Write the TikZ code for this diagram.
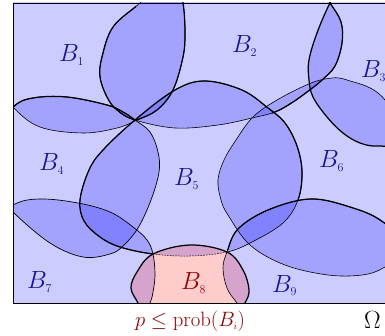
\documentclass[tikz,border=0pt]{standalone}
\definecolor{labblue}{rgb}{0.08,0.08,0.58}
\definecolor{labred}{rgb}{0.55,0.02,0.02}
\begin{document}
\begin{tikzpicture}[x=1pt,y=-1pt,
  blobfill/.style={fill=blue,fill opacity=0.2},
  redfill/.style={fill=red,fill opacity=0.2},
  thickline/.style={draw=black,line width=1.25pt},
  thinline/.style={draw=black,line width=0.6pt},
  medline/.style={draw=black,line width=0.7pt},
  dashline/.style={draw=black,line width=0.5pt,dash pattern=on 1.6pt off 1.2pt},
  lab/.style={text=labblue,font=\fontsize{24}{28}\selectfont,inner sep=0pt,anchor=base west},
]
\useasboundingbox (0,0) rectangle (385,336);
\def\PBone{plot[smooth cycle,tension=0.6] coordinates {(183,3) (185,33) (183,57) (173,90) (157,110) (137,120) (117,128) (83,133) (40,127) (13,107) (-12,75) (-22,20) (20,-30) (130,-40) (176,-20)}}
\def\PBtwo{plot[smooth cycle,tension=0.6] coordinates {(140,3) (113,27) (102,57) (100,77) (107,97) (117,110) (135,120) (175,128) (218,125) (252,118) (275,112) (293,102) (311,89) (322,80) (335,66) (342,43) (341,22) (330,3) (314,-20) (240,-35) (165,-20)}}
\def\PBthree{plot[smooth cycle,tension=0.6] coordinates {(330,3) (317,33) (309,60) (309,80) (313,97) (327,117) (343,133) (360,143) (378,146) (400,140) (420,90) (415,10) (380,-25) (345,-22)}}
\def\PBfour{plot[smooth cycle,tension=0.6] coordinates {(13,107) (33,98) (67,97) (107,105) (123,112) (135,120) (150,132) (158,152) (159,172) (151,200) (138,228) (123,246) (110,254) (83,257) (50,243) (13,212) (-10,185) (-18,140)}}
\def\PBfive{plot[smooth cycle,tension=0.6] coordinates {(135,120) (175,90) (205,81) (242,90) (268,108) (285,123) (297,146) (302,172) (298,200) (283,223) (252,242) (227,252) (190,256) (153,254) (120,247) (100,237) (84,221) (80,200) (89,170) (103,150)}}
\def\PBsix{plot[smooth cycle,tension=0.6] coordinates {(385,100) (347,80) (325,79) (302,87) (272,103) (252,118) (236,140) (224,160) (218,180) (221,200) (228,215) (250,245) (285,265) (328,275) (362,275) (383,268) (405,250) (420,170)}}
\def\PBseven{plot[smooth cycle,tension=0.6] coordinates {(13,205) (40,199) (78,203) (110,212) (133,227) (147,240) (153,254) (155,275) (153,292) (150,303) (140,325) (60,335) (-20,310) (-20,230)}}
\def\PBeight{plot[smooth cycle,tension=0.6] coordinates {(138,303) (131,288) (137,272) (153,254) (190,245) (227,252) (243,270) (249,290) (245,303) (235,318) (190,326) (145,318)}}
\def\PBnine{plot[smooth cycle,tension=0.6] coordinates {(227,252) (223,268) (227,288) (237,303) (255,325) (330,340) (410,320) (415,255) (383,222) (350,207) (310,199) (268,210) (238,229)}}
\begin{scope}
  \clip (13,3) rectangle (420,303);
  \fill[blobfill] \PBone;
  \fill[blobfill] \PBtwo;
  \fill[blobfill] \PBthree;
  \fill[blobfill] \PBfour;
  \fill[blobfill] \PBfive;
  \fill[blobfill] \PBsix;
  \fill[blobfill] \PBseven;
  \fill[blobfill] \PBnine;
  \fill[redfill] \PBeight;
  % thin outlines
  \path[thinline] \PBone;
  \path[thinline] \PBtwo;
  \path[medline] \PBfour;
  \path[thinline] \PBsix;
  \path[medline] \PBseven;
  \path[thinline] \PBnine;
  \begin{scope}
    \clip (-50,-50) rectangle (420,245) (227,-50) rectangle (420,400) (-50,-50) rectangle (153,400);
    \path[thinline] \PBfive;
  \end{scope}
  \begin{scope}
    \clip (153,245) rectangle (227,275);
    \path[dashline] \PBfive;
  \end{scope}
  % thick parts
  \begin{scope}
    \clip (136,-50) rectangle (420,121);
    \path[thickline] \PBone;
  \end{scope}
  \begin{scope}
    \clip (-50,-50) rectangle (136,400) (272,-50) rectangle (420,400);
    \path[thickline] \PBtwo;
  \end{scope}
  \path[thickline] \PBthree;
  \begin{scope}
    \clip (-50,-50) rectangle (135,150);
    \path[thickline] \PBfour;
  \end{scope}
  \begin{scope}
    \clip (-50,-50) rectangle (420,200) (-50,-50) rectangle (153,400);
    \path[thickline] \PBfive;
  \end{scope}
  \path[thickline] \PBeight;
  \begin{scope}
    \clip (-50,-50) rectangle (420,250) (250,-50) rectangle (420,400);
    \path[thickline] \PBnine;
  \end{scope}
\end{scope}
\draw[line width=0.8pt] (13,3) rectangle (420,303);
\node[lab] (t1) at (59,62) {$B_{\scriptscriptstyle 1}$};
\node[lab] (t2) at (232,53) {$B_{\scriptscriptstyle 2}$};
\node[lab] (t3) at (361,78) {$B_{\scriptscriptstyle 3}$};
\node[lab] (t4) at (39,171) {$B_{\scriptscriptstyle 4}$};
\node[lab] (t5) at (174,186) {$B_{\scriptscriptstyle 5}$};
\node[lab] (t6) at (319,168) {$B_{\scriptscriptstyle 6}$};
\node[lab] (t7) at (27,289) {$B_{\scriptscriptstyle 7}$};
\node[lab,text=labred] (t8) at (181,290) {$B_{\scriptscriptstyle 8}$};
\node[lab] (t9) at (272,292) {$B_{\scriptscriptstyle 9}$};
\node[text=labred,font=\fontsize{20}{24}\selectfont,inner sep=0pt,anchor=base] (cap) at (190,326) {$p\leq\mathrm{prob}(B_{\scriptscriptstyle i})$};
\node[font=\fontsize{23}{27}\selectfont,inner sep=0pt,anchor=base west] (om) at (364,328) {$\Omega$};
\end{tikzpicture}
\end{document}
